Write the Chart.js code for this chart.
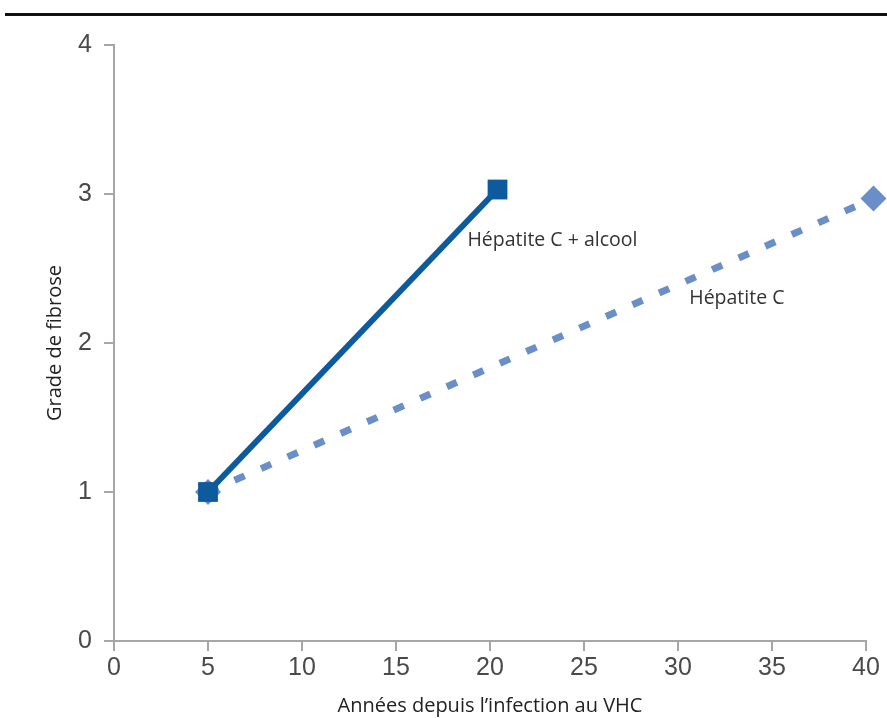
<!DOCTYPE html>
<html>
<head>
<meta charset="utf-8">
<script src="https://cdn.jsdelivr.net/npm/chart.js@4.4.1/dist/chart.umd.min.js"></script>
<style>
  html, body { margin: 0; padding: 0; background: #fff; }
  #wrap { position: relative; width: 887px; height: 718px; }
  #ligne { position: absolute; left: 5px; right: 0; top: 13px; height: 3px; background: #111; }
</style>
</head>
<body>
<div id="wrap">
  <div id="ligne"></div>
  <canvas id="grafico" width="887" height="718"></canvas>
</div>
<script>
// données
const anneesAlcool = [5, 20.4];
const gradeAlcool = [1, 3.03];
const anneesVHC = [5, 40.4];
const gradeVHC = [1, 2.97];
const ticksX = [0, 5, 10, 15, 20, 25, 30, 35, 40];
const ticksY = [0, 1, 2, 3, 4];
const etiquettes = [
  { texte: 'Hépatite C + alcool', x: 18.8, y: 2.69 },
  { texte: 'Hépatite C', x: 30.6, y: 2.3 }
];

const pontos = (xs, ys) => xs.map((x, i) => ({ x: x, y: ys[i] }));
const police = '"Open Sans", "DejaVu Sans", sans-serif';
const policeTicks = '"Liberation Sans", Arial, sans-serif';

const ctx = document.querySelector('#grafico');

// texte posé près des courbes
const textos = {
  id: 'textos',
  afterDatasetsDraw(chart) {
    const c = chart.ctx;
    const sx = chart.scales.x, sy = chart.scales.y;
    c.save();
    c.font = '19.5px ' + police;
    c.fillStyle = '#333';
    c.textBaseline = 'middle';
    etiquettes.forEach(e => {
      c.fillText(e.texte, sx.getPixelForValue(e.x), sy.getPixelForValue(e.y));
    });
    c.restore();
  }
};

const grafico = new Chart(ctx, {
  type: 'scatter',
  data: {
    datasets: [
      {
        label: 'Hépatite C + alcool',
        data: pontos(anneesAlcool, gradeAlcool),
        showLine: true,
        borderColor: '#0d5a9c',
        backgroundColor: '#0d5a9c',
        borderWidth: 6,
        pointStyle: 'rect',
        pointRadius: 14,
        pointBorderWidth: 0,
        clip: false
      },
      {
        label: 'Hépatite C',
        data: pontos(anneesVHC, gradeVHC),
        showLine: true,
        borderColor: '#6a8ec6',
        backgroundColor: '#6a8ec6',
        borderWidth: 7,
        borderDash: [11, 18],
        pointStyle: 'rectRot',
        pointRadius: 13,
        pointBorderWidth: 0,
        clip: false
      }
    ]
  },
  options: {
    responsive: false,
    animation: false,
    layout: { padding: { left: 0, right: 21, top: 45, bottom: 0 } },
    plugins: { legend: { display: false }, tooltip: { enabled: false } },
    scales: {
      x: {
        type: 'linear',
        min: 0,
        max: 40,
        afterBuildTicks: s => { s.ticks = ticksX.map(v => ({ value: v })); },
        afterFit: s => { s.height = 77; },
        grid: { drawOnChartArea: false, drawTicks: true, tickLength: 10, color: '#a6a6a6', lineWidth: 2 },
        border: { color: '#a6a6a6', width: 2 },
        ticks: { color: '#4a4a4a', font: { size: 25, family: policeTicks }, padding: 2, maxRotation: 0 },
        title: { display: true, text: 'Années depuis l’infection au VHC', color: '#222',
                 font: { size: 20, family: police }, padding: { top: 0, bottom: 0 } }
      },
      y: {
        type: 'linear',
        min: 0,
        max: 4,
        afterBuildTicks: s => { s.ticks = ticksY.map(v => ({ value: v })); },
        afterFit: s => { s.width = 114; },
        grid: { drawOnChartArea: false, drawTicks: true, tickLength: 10, color: '#a6a6a6', lineWidth: 2 },
        border: { color: '#a6a6a6', width: 2 },
        ticks: { color: '#4a4a4a', font: { size: 25, family: policeTicks }, padding: 12 },
        title: { display: true, text: 'Grade de fibrose', color: '#222',
                 font: { size: 20, family: police }, padding: { top: 43, bottom: 0 } }
      }
    }
  },
  plugins: [textos]
});
</script>
</body>
</html>
